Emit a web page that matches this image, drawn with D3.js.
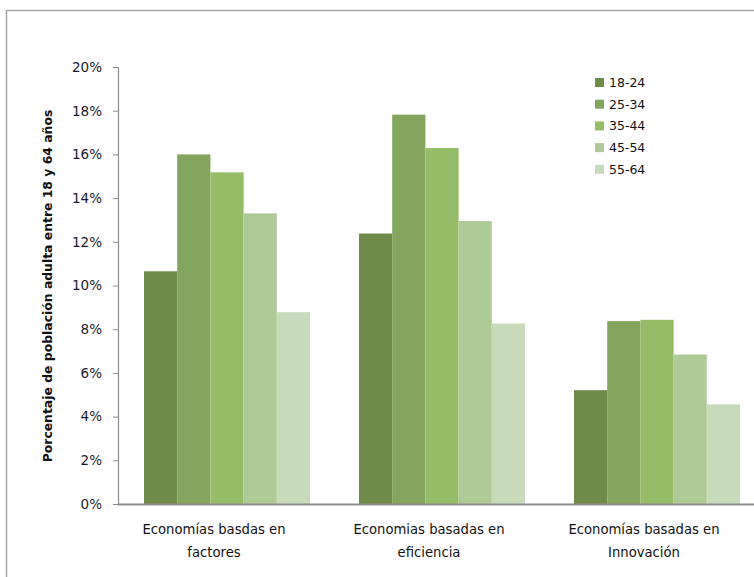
<!DOCTYPE html>
<html><head><meta charset="utf-8">
<script src="https://cdn.jsdelivr.net/npm/d3@7"></script>
<style>body{margin:0;background:#fff}svg{display:block}text{font-family:"DejaVu Sans",Verdana,sans-serif}</style>
</head><body>
<svg id="c" width="754" height="577"></svg>
<script>
const categories = ["Economías basdas en|factores", "Economias basadas en|eficiencia", "Economías basadas en|Innovación"];
const seriesNames = ["18-24", "25-34", "35-44", "45-54", "55-64"];
const s1824 = [10.65, 12.38, 5.21];
const s2534 = [16.0, 17.82, 8.37];
const s3544 = [15.18, 16.29, 8.43];
const s4554 = [13.3, 12.95, 6.84];
const s5564 = [8.78, 8.26, 4.56];
const colors = ["#6f8b4a", "#83a55d", "#95bc67", "#aeca97", "#c7dbba"];
const yTicks = [0, 2, 4, 6, 8, 10, 12, 14, 16, 18, 20];
const yTitle = "Porcentaje de población adulta entre 18 y 64 años";

const series = [s1824, s2534, s3544, s4554, s5564];
const svg = d3.select("#c");

// frame
svg.append("rect").attr("x", 6.5).attr("y", 10.5).attr("width", 800).attr("height", 600)
  .attr("fill", "none").attr("stroke", "#a6a6a6").attr("stroke-width", 1.5);

const x0 = d3.scaleBand().domain(categories).range([119.5, 764.5]).paddingInner(0).paddingOuter(0);
const x1 = d3.scaleBand().domain(seriesNames).range([0, 166]);
const y = d3.scaleLinear().domain([0, 20]).range([504, 67]);
const groupOffset = (x0.bandwidth() - 166) / 2;

// bars
categories.forEach((c, ci) => {
  const g = svg.append("g").attr("transform", `translate(${x0(c) + groupOffset},0)`);
  seriesNames.forEach((s, si) => {
    const v = series[si][ci];
    g.append("rect").attr("x", x1(s)).attr("width", x1.bandwidth())
      .attr("y", y(v)).attr("height", y(0) - y(v)).attr("fill", colors[si]);
  });
});

// y axis
const yAxis = d3.axisLeft(y).tickValues(yTicks).tickFormat(d => d + "%").tickSize(5).tickSizeOuter(0);
const ya = svg.append("g").attr("transform", "translate(118,0)").call(yAxis);
ya.select(".domain").attr("stroke", "#8c8c8c").attr("stroke-width", 1.2);
ya.selectAll(".tick line").attr("stroke", "#8c8c8c");
ya.selectAll(".tick text").attr("x", -16).attr("font-size", 13.5).attr("fill", "#1a1a2e")
  .style("font-family", '"DejaVu Sans",Verdana,sans-serif');

// x axis line
svg.append("line").attr("x1", 118).attr("x2", 754).attr("y1", y(0) + 0.5).attr("y2", y(0) + 0.5)
  .attr("stroke", "#8c8c8c").attr("stroke-width", 2);

// category labels
categories.forEach(c => {
  const cx = x0(c) + x0.bandwidth() / 2 - 13;
  const lines = c.split("|");
  lines.forEach((ln, i) => {
    svg.append("text").attr("x", cx).attr("y", 534 + i * 23).attr("text-anchor", "middle")
      .attr("font-size", 13.2).attr("fill", "#111").text(ln);
  });
});

// y title
svg.append("text").attr("transform", "translate(52,286) rotate(-90)").attr("text-anchor", "middle")
  .attr("font-size", 12.4).attr("font-weight", "bold").attr("fill", "#111").text(yTitle);

// legend
const lg = svg.append("g").attr("transform", "translate(595,78)");
seriesNames.forEach((s, i) => {
  lg.append("rect").attr("x", 0).attr("y", i * 21.7).attr("width", 9).attr("height", 9).attr("fill", colors[i]);
  lg.append("text").attr("x", 14).attr("y", i * 21.7 + 9).attr("font-size", 12.5).attr("fill", "#111").text(s);
});
</script>
</body></html>
